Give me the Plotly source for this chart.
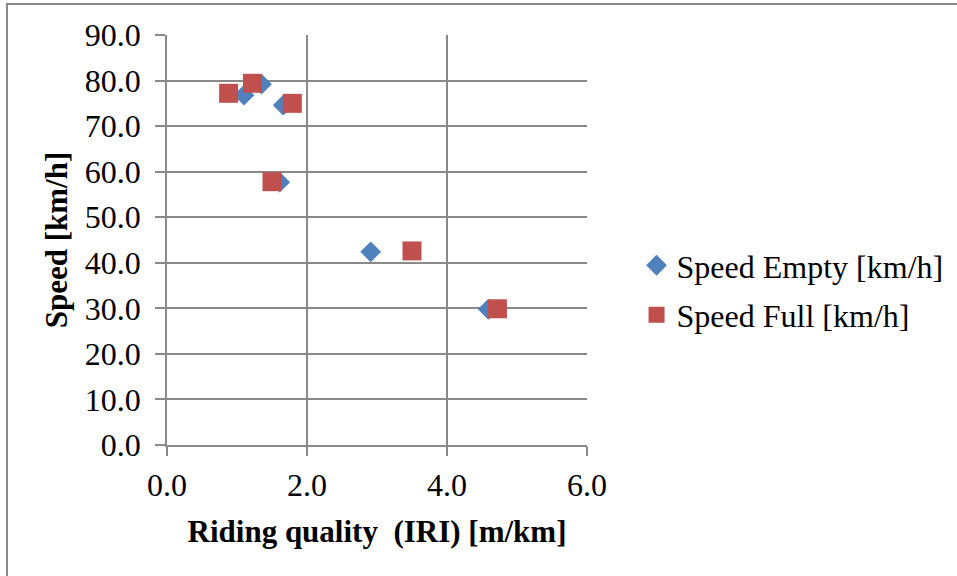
import plotly.graph_objects as go

iri_empty = [1.10, 1.35, 1.66, 1.61, 2.91, 4.59]
speed_empty = [76.8, 79.2, 74.6, 57.7, 42.4, 29.8]
iri_full = [0.88, 1.22, 1.79, 1.50, 3.50, 4.72]
speed_full = [77.2, 79.4, 75.0, 57.8, 42.6, 29.9]

FONT = "Times New Roman, Liberation Serif, serif"
GRID = "#898989"

fig = go.Figure()
fig.add_trace(go.Scatter(x=iri_empty, y=speed_empty, mode="markers", name="Speed Empty [km/h]",
                         legendgroup="a",
                         marker=dict(symbol="diamond", size=16, color="#4F81BD", line=dict(width=0))))
fig.add_trace(go.Scatter(x=iri_full, y=speed_full, mode="markers", name="Speed Full [km/h]",
                         legendgroup="b",
                         marker=dict(symbol="square", size=19, color="#C0504D", line=dict(width=0))))

fig.update_layout(
    width=957, height=576,
    margin=dict(l=167, r=370, t=35, b=131, autoexpand=False),
    paper_bgcolor="white", plot_bgcolor="white",
    font=dict(family=FONT, size=30, color="black"),
    showlegend=True,
    legend=dict(x=1.118, xanchor="left", y=0.505, yanchor="top", tracegroupgap=5,
                font=dict(family=FONT, size=32, color="black"), bgcolor="rgba(0,0,0,0)"),
    xaxis=dict(range=[0, 6], dtick=2, tick0=0, tickformat=".1f",
               showgrid=True, gridcolor=GRID, gridwidth=1.5,
               showline=True, linecolor=GRID, linewidth=1.5, mirror=False,
               ticks="outside", ticklen=9, tickcolor=GRID, tickwidth=1.5,
               zeroline=False, automargin=False, ticklabelstandoff=2,
               tickfont=dict(family=FONT, size=32),
               title=dict(text="<b>Riding quality  (IRI) [m/km]</b>", font=dict(family=FONT, size=31),
                          standoff=18)),
    yaxis=dict(range=[0, 90], dtick=10, tick0=0, tickformat=".1f",
               showgrid=True, gridcolor=GRID, gridwidth=1.5,
               showline=True, linecolor=GRID, linewidth=1.5,
               ticks="outside", ticklen=10, tickcolor=GRID, tickwidth=1.5,
               zeroline=False, automargin=False, ticklabelstandoff=8,
               tickfont=dict(family=FONT, size=32),
               title=dict(text="<b>Speed [km/h]</b>", font=dict(family=FONT, size=31),
                          standoff=8)),
    shapes=[dict(type="rect", xref="paper", yref="paper",
                 x0=(7 - 167) / 420, x1=(1000 - 167) / 420,
                 y0=(445 - 620) / 410, y1=(445 - 4) / 410,
                 line=dict(color="#8a8a8a", width=2), fillcolor="rgba(0,0,0,0)", layer="below")],
)

fig.write_html("out.html", config={"displayModeBar": False},
               post_script="document.body.style.margin='0';document.body.style.overflow='hidden';")
